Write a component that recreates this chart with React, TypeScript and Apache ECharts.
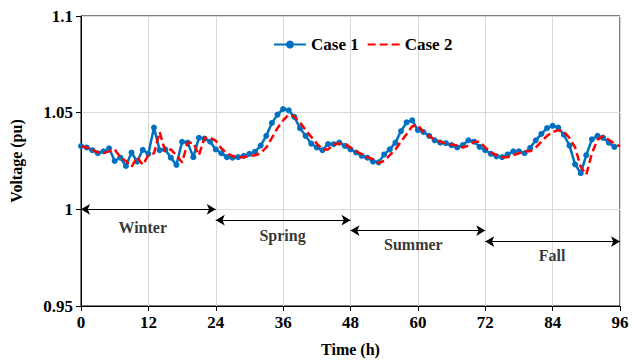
import React, { useEffect, useRef } from "react";
import * as echarts from "echarts";

const hours1 = Array.from({ length: 96 }, (_, i) => i);
const case1 = [
  1.0327, 1.032, 1.0306, 1.029, 1.03, 1.0316, 1.025, 1.0267, 1.0224, 1.0294, 1.0247, 1.0308,
  1.0287, 1.0423, 1.0306, 1.031, 1.0267, 1.023, 1.0349, 1.0345, 1.027, 1.037, 1.0366, 1.035,
  1.031, 1.029, 1.027, 1.0267, 1.027, 1.0277, 1.0287, 1.0298, 1.033, 1.038, 1.0447, 1.049,
  1.0519, 1.0512, 1.0478, 1.042, 1.038, 1.034, 1.032, 1.0306, 1.0338, 1.0337, 1.0345, 1.0328,
  1.031, 1.0294, 1.0277, 1.0267, 1.0247, 1.0243, 1.0284, 1.031, 1.0345, 1.0405, 1.045, 1.046,
  1.041, 1.04, 1.038, 1.0357, 1.0345, 1.0342, 1.0332, 1.032, 1.0332, 1.0357, 1.035, 1.0323,
  1.0306, 1.0287, 1.0274, 1.027, 1.0284, 1.03, 1.03, 1.029, 1.0318, 1.0357, 1.039, 1.042,
  1.0432, 1.0423, 1.0386, 1.033, 1.0233, 1.0187, 1.028, 1.0362, 1.038, 1.037, 1.0345, 1.0323,
];
const hours2 = Array.from({ length: 97 }, (_, i) => i);
const case2 = [
  1.0325, 1.032, 1.031, 1.0295, 1.029, 1.03, 1.031, 1.027, 1.025, 1.022, 1.027, 1.023,
  1.028, 1.029, 1.04, 1.03, 1.031, 1.028, 1.0242, 1.0345, 1.0345, 1.028, 1.037, 1.037,
  1.0355, 1.0315, 1.029, 1.0275, 1.027, 1.027, 1.0275, 1.028, 1.029, 1.032, 1.037, 1.042,
  1.046, 1.049, 1.048, 1.045, 1.041, 1.0375, 1.034, 1.031, 1.031, 1.0335, 1.034, 1.034,
  1.032, 1.03, 1.0285, 1.027, 1.026, 1.024, 1.025, 1.028, 1.031, 1.035, 1.039, 1.043,
  1.0435, 1.04, 1.038, 1.036, 1.035, 1.034, 1.0335, 1.033, 1.032, 1.033, 1.035, 1.035,
  1.032, 1.0295, 1.028, 1.027, 1.027, 1.028, 1.029, 1.03, 1.03, 1.032, 1.035, 1.038,
  1.04, 1.041, 1.04, 1.037, 1.032, 1.022, 1.018, 1.029, 1.036, 1.038, 1.036, 1.034, 1.0325,
];

const seasons = ["Winter", "Spring", "Summer", "Fall"];
const seasonStart = [0, 24, 48, 72];
const seasonEnd = [24, 48, 72, 96];
const arrowLevel = [1.0, 0.9944, 0.989, 0.9833];
const labelHour = [11, 35.9, 59.2, 83.9];
const labelLevel = [0.9906, 0.9864, 0.9818, 0.976];

const xTicks = [0, 12, 24, 36, 48, 60, 72, 84, 96];
const yTicks = [0.95, 1, 1.05, 1.1];

const FONT = "'Liberation Serif', 'Times New Roman', serif";

export default function App() {
  const ref = useRef<HTMLDivElement>(null);
  useEffect(() => {
    if (!ref.current) return;
    const chart = echarts.init(ref.current, null, { renderer: "svg" });
    chart.setOption({
      animation: false,
      backgroundColor: "#ffffff",
      textStyle: { fontFamily: FONT },
      grid: {
        left: 78,
        right: 14,
        top: 16,
        bottom: 52,
        show: true,
        borderColor: "#000",
        borderWidth: 1,
      },
      legend: {
        data: [
          { name: "Case 1" },
          { name: "Case 2", itemStyle: { opacity: 0 } },
        ],
        left: 268,
        top: 31,
        itemWidth: 32,
        itemHeight: 10,
        itemGap: 8,
        textStyle: { fontFamily: FONT, fontWeight: "bold", fontSize: 17, color: "#000" },
      },
      xAxis: {
        type: "value",
        min: 0,
        max: 96,
        interval: 12,
        name: "Time (h)",
        nameLocation: "middle",
        nameGap: 35,
        nameTextStyle: { fontFamily: FONT, fontWeight: "bold", fontSize: 16, color: "#000" },
        axisLine: { show: true, onZero: false, lineStyle: { color: "#000", width: 1 } },
        axisTick: { show: true, length: 5, lineStyle: { color: "#000" } },
        axisLabel: {
          fontFamily: FONT,
          fontWeight: "bold",
          fontSize: 17,
          color: "#000",
          margin: 8,
          formatter: (v: number) => (xTicks.includes(v) ? String(v) : ""),
        },
        splitLine: { show: true, lineStyle: { color: "#d9d9d9", width: 1 } },
      },
      yAxis: {
        type: "value",
        min: 0.95,
        max: 1.1,
        interval: 0.05,
        name: "Voltage (pu)",
        nameLocation: "middle",
        nameGap: 57,
        nameTextStyle: { fontFamily: FONT, fontWeight: "bold", fontSize: 16, color: "#000" },
        axisLine: { show: true, lineStyle: { color: "#000", width: 1 } },
        axisTick: { show: true, length: 5, lineStyle: { color: "#000" } },
        axisLabel: {
          fontFamily: FONT,
          fontWeight: "bold",
          fontSize: 17,
          color: "#000",
          margin: 8,
          formatter: (v: number) => {
            const t = yTicks.find((k) => Math.abs(k - v) < 1e-6);
            return t === undefined ? "" : String(t);
          },
        },
        splitLine: { show: true, lineStyle: { color: "#d9d9d9", width: 1 } },
      },
      series: [
        {
          name: "Case 1",
          type: "line",
          data: hours1.map((h, i) => [h, case1[i]]),
          color: "#0070C0",
          lineStyle: { color: "#0070C0", width: 2.5 },
          itemStyle: { color: "#0070C0" },
          symbol: "circle",
          symbolSize: 6,
          showSymbol: true,
          z: 3,
        },
        {
          name: "Case 2",
          type: "line",
          data: hours2.map((h, i) => [h, case2[i]]),
          color: "#FF0000",
          lineStyle: { color: "#FF0000", width: 2.5, type: [8, 4] },
          itemStyle: { color: "#FF0000" },
          symbol: "none",
          showSymbol: false,
          z: 4,
        },
        {
          name: "seasons",
          type: "line",
          data: [],
          markLine: {
            silent: true,
            symbol: ["arrow", "arrow"],
            symbolSize: [8, 9],
            lineStyle: { color: "#000", width: 1, type: "solid" },
            label: { show: false },
            data: seasons.map((s, i) => [
              { coord: [seasonStart[i], arrowLevel[i]] },
              { coord: [seasonEnd[i], arrowLevel[i]] },
            ]),
          },
          z: 5,
        },
        {
          name: "seasonLabels",
          type: "scatter",
          symbolSize: 0,
          silent: true,
          data: seasons.map((s, i) => ({ name: s, value: [labelHour[i], labelLevel[i]] })),
          label: {
            show: true,
            position: "inside",
            formatter: (p: any) => p.name,
            fontFamily: FONT,
            fontWeight: "bold",
            fontSize: 16,
            color: "#000",
          },
          z: 6,
        },
      ],
    });
    return () => chart.dispose();
  }, []);
  return (
    <div
      ref={ref}
      style={{ position: "absolute", left: 0, top: 0, width: 634, height: 362 }}
    />
  );
}
